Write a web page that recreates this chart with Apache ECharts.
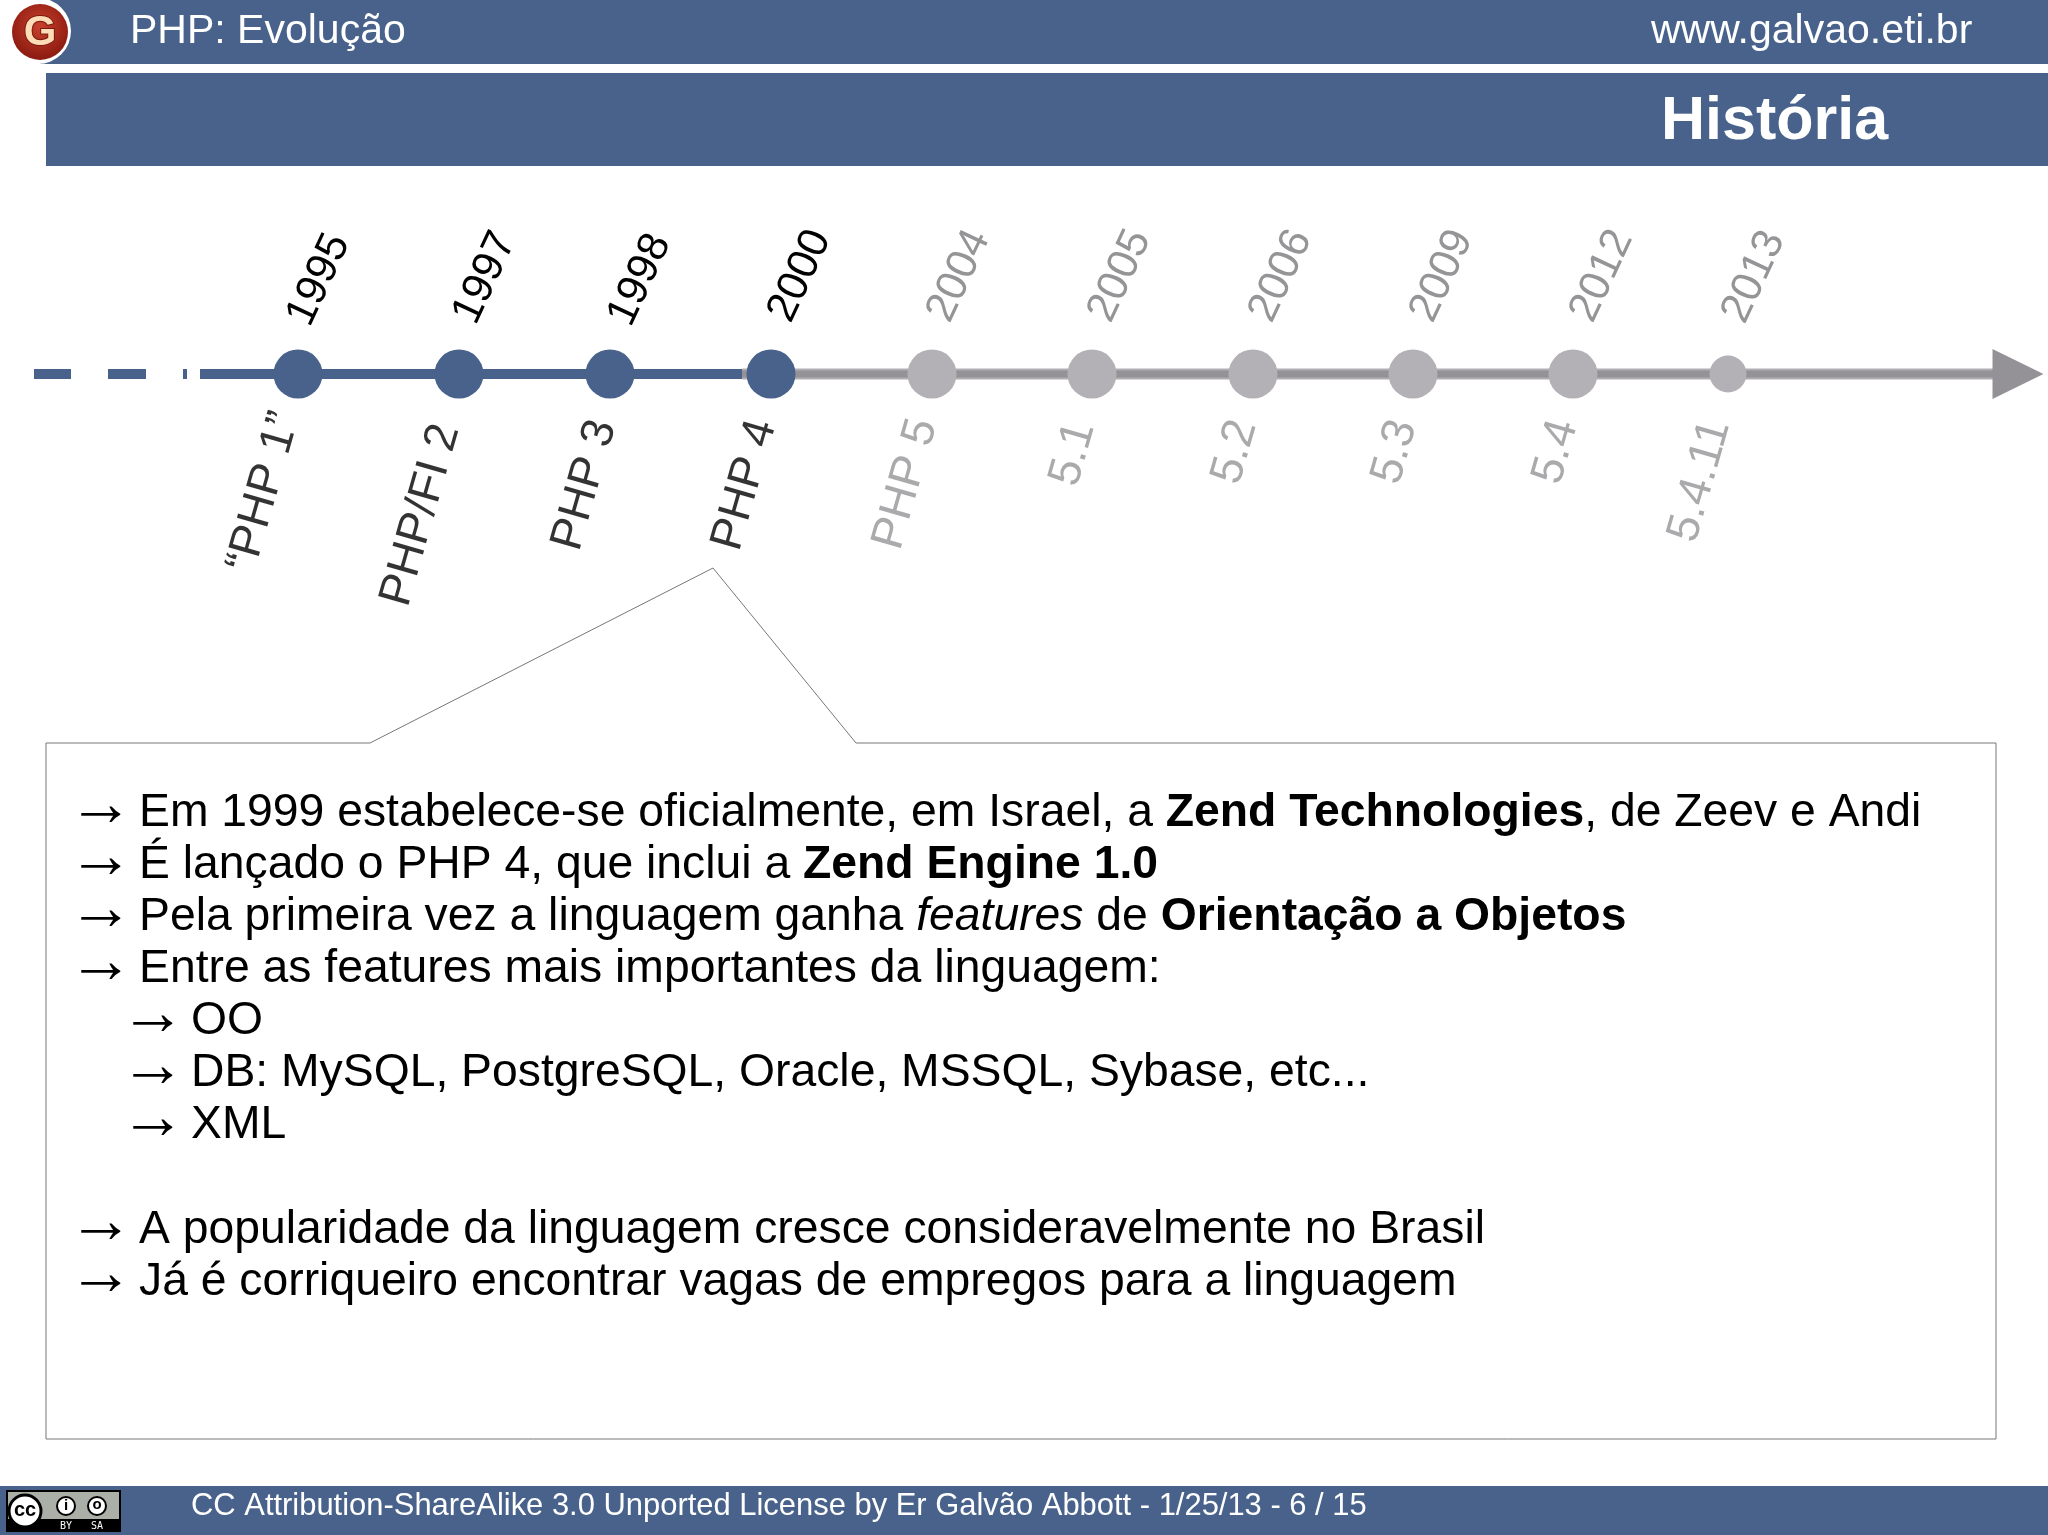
<!DOCTYPE html>
<html>
<head>
<meta charset="utf-8">
<title>PHP: Evolução</title>
<style>
  html, body { margin: 0; padding: 0; background: #fff; }
  #chart { width: 2048px; height: 1535px; }
</style>
<script src="https://cdn.jsdelivr.net/npm/echarts@6/dist/echarts.min.js"></script>
</head>
<body>
<div id="chart"></div>
<script>
// timeline data, position is measured along the slide
const years = ['1995', '1997', '1998', '2000', '2004', '2005', '2006', '2009', '2012', '2013'];
const versions = ['“PHP 1”', 'PHP/FI 2', 'PHP 3', 'PHP 4', 'PHP 5', '5.1', '5.2', '5.3', '5.4', '5.4.11'];
const positions = [298, 459, 610, 771, 932, 1092, 1253, 1413, 1573, 1728];
const pastCount = 4;

const pastDashes = [[34, 71], [108, 146], [183, 187]];
const pastLineEnd = [200, 742];
const futureLineEnd = [742, 1996];
const arrowTip = 2018;

const headerLeft = 'PHP: Evolução';
const headerRight = 'www.galvao.eti.br';
const slideTitle = 'História';
const footerText = 'CC Attribution-ShareAlike 3.0 Unported License by Er Galvão Abbott - 1/25/13 - 6 / 15';

const bulletGlyph = '→';
const bodyLines = [
  'Em 1999 estabelece-se oficialmente, em Israel, a {b|Zend Technologies}, de Zeev e Andi',
  'É lançado o PHP 4, que inclui a {b|Zend Engine 1.0}',
  'Pela primeira vez a linguagem ganha {i|features} de {b|Orientação a Objetos}',
  'Entre as features mais importantes da linguagem:',
  'OO',
  'DB: MySQL, PostgreSQL, Oracle, MSSQL, Sybase, etc...',
  'XML',
  '',
  'A popularidade da linguagem cresce consideravelmente no Brasil',
  'Já é corriqueiro encontrar vagas de empregos para a linguagem'
];
const indentedLines = [4, 5, 6];

const BLUE = '#48628b';
const LINE_GRAY = '#949296';
const LINE_EDGE = '#b0aeb2';
const NODE_GRAY = '#b3b1b5';
const TEXT_GRAY = '#959597';
const FONT = '"Liberation Sans", Arial, sans-serif';
const YEAR_ANGLE = 65;
const VERSION_ANGLE = 74;

const chart = echarts.init(document.getElementById('chart'), null, { renderer: 'canvas' });

function nodeColor(i) {
  return i < pastCount ? BLUE : NODE_GRAY;
}

function textColor(i) {
  return i < pastCount ? '#000' : TEXT_GRAY;
}

// label centres relative to the node, in screen pixels
const yearShiftX = [21, 26, 30, 29, 27, 28, 28, 29, 29, 26];
const yearShiftY = [-94, -96, -94, -98, -98, -98, -98, -98, -98, -97];
const versionShiftX = [-34, -38, -25, -26, -26, -19, -18, -18, -17, -28];
const versionShiftY = [118, 141, 111, 111, 110, 80, 78, 78, 78, 107];

// the label offset is applied in the rotated frame of the text
function rotatedOffset(dx, dy, angle) {
  const a = angle * Math.PI / 180;
  return [dx * Math.cos(a) - dy * Math.sin(a), dx * Math.sin(a) + dy * Math.cos(a)];
}

function rotatedLabel(text, i, dx, dy, angle, fontSize) {
  return {
    show: true,
    formatter: text,
    position: 'inside',
    rotate: angle,
    align: 'center',
    verticalAlign: 'middle',
    offset: rotatedOffset(dx, dy, angle),
    color: textColor(i),
    fontFamily: FONT,
    fontSize: fontSize
  };
}

const yearPoints = positions.map((x, i) => ({
  value: [x, 0],
  symbolSize: i === positions.length - 1 ? 37 : 49,
  itemStyle: { color: nodeColor(i), opacity: 1 },
  label: rotatedLabel(years[i], i, yearShiftX[i], yearShiftY[i], YEAR_ANGLE, 43)
}));

const versionPoints = positions.map((x, i) => ({
  value: [x, 0],
  symbolSize: 0,
  label: rotatedLabel(versions[i], i, versionShiftX[i], versionShiftY[i], VERSION_ANGLE, 46)
}));

// null gaps break the dashed part of the line
const dashPoints = [];
pastDashes.forEach(d => {
  dashPoints.push([d[0], 0], [d[1], 0], [null, null]);
});

function slideText(text, x, y, fontSize, fontWeight) {
  return {
    type: 'text',
    z: 5,
    style: {
      text: text,
      x: x,
      y: y,
      fill: '#fff',
      font: (fontWeight || 'normal') + ' ' + fontSize + 'px ' + FONT,
      verticalAlign: 'middle'
    }
  };
}

const bodyGraphics = [];
bodyLines.forEach((t, index) => {
  if (!t) return;
  const indent = indentedLines.includes(index) ? 52 : 0;
  const y = 813 + index * 52.1;
  bodyGraphics.push({
    type: 'text',
    z: 5,
    style: {
      text: bulletGlyph,
      x: 68 + indent,
      y: y - 6,
      fill: '#000',
      font: '66px ' + FONT,
      verticalAlign: 'middle'
    }
  });
  bodyGraphics.push({
    type: 'text',
    z: 5,
    style: {
      text: t,
      x: 139 + indent,
      y: y,
      fill: '#000',
      font: '46.3px ' + FONT,
      verticalAlign: 'middle',
      rich: {
        b: { font: 'bold 46.3px ' + FONT, fill: '#000' },
        i: { font: 'italic 46.3px ' + FONT, fill: '#000' }
      }
    }
  });
});

const option = {
  animation: false,
  backgroundColor: '#fff',
  grid: { left: 0, right: 0, top: 0, bottom: 0 },
  xAxis: { type: 'value', min: 0, max: 2048, show: false },
  yAxis: { type: 'value', min: -1161, max: 374, show: false },
  graphic: [
    // header bars
    { type: 'rect', z: 1, shape: { x: 40, y: 0, width: 2008, height: 64 }, style: { fill: BLUE } },
    { type: 'rect', z: 1, shape: { x: 46, y: 73, width: 2002, height: 93 }, style: { fill: BLUE } },
    { type: 'circle', z: 2, shape: { cx: 38, cy: 31, r: 33 }, style: { fill: '#fff' } },
    {
      type: 'circle', z: 3, shape: { cx: 40, cy: 32, r: 28 },
      style: {
        fill: {
          type: 'radial', x: 0.5, y: 0.4, r: 0.6,
          colorStops: [{ offset: 0, color: '#c8402c' }, { offset: 1, color: '#8a1a10' }]
        }
      }
    },
    {
      type: 'text', z: 4,
      style: {
        text: 'G', x: 40, y: 33, fill: '#ffdcb8', stroke: '#7a1a10', lineWidth: 2,
        font: 'bold 42px ' + FONT, align: 'center', verticalAlign: 'middle'
      }
    },
    slideText(headerLeft, 130, 32, 41),
    slideText(headerRight, 1651, 32, 41),
    slideText(slideTitle, 1661, 122, 61, 'bold'),

    // callout around the text
    {
      type: 'polygon', z: 1,
      shape: { points: [[46, 743], [370, 743], [713, 568], [856, 743], [1996, 743], [1996, 1439], [46, 1439]] },
      style: { fill: '#fff', stroke: '#777', lineWidth: 1 }
    },
    ...bodyGraphics,

    // footer and licence badge
    { type: 'rect', z: 1, shape: { x: 0, y: 1486, width: 2048, height: 49 }, style: { fill: BLUE } },
    { type: 'rect', z: 2, shape: { x: 6, y: 1490, width: 115, height: 42 }, style: { fill: '#000' } },
    { type: 'rect', z: 3, shape: { x: 8, y: 1492, width: 111, height: 27 }, style: { fill: '#aab0a8' } },
    { type: 'circle', z: 4, shape: { cx: 25, cy: 1511, r: 16 }, style: { fill: '#fff', stroke: '#000', lineWidth: 3 } },
    { type: 'text', z: 5, style: { text: 'cc', x: 25, y: 1510, fill: '#000', font: 'bold 20px ' + FONT, align: 'center', verticalAlign: 'middle' } },
    { type: 'circle', z: 4, shape: { cx: 66, cy: 1506, r: 9 }, style: { fill: '#fff', stroke: '#000', lineWidth: 2 } },
    { type: 'text', z: 5, style: { text: 'i', x: 66, y: 1506, fill: '#000', font: 'bold 15px ' + FONT, align: 'center', verticalAlign: 'middle' } },
    { type: 'circle', z: 4, shape: { cx: 97, cy: 1506, r: 9 }, style: { fill: '#fff', stroke: '#000', lineWidth: 2 } },
    { type: 'text', z: 5, style: { text: 'o', x: 97, y: 1505, fill: '#000', font: 'bold 15px ' + FONT, align: 'center', verticalAlign: 'middle' } },
    { type: 'text', z: 5, style: { text: 'BY', x: 66, y: 1526, fill: '#fff', font: '10px "DejaVu Sans Mono"', align: 'center', verticalAlign: 'middle' } },
    { type: 'text', z: 5, style: { text: 'SA', x: 97, y: 1526, fill: '#fff', font: '10px "DejaVu Sans Mono"', align: 'center', verticalAlign: 'middle' } },
    slideText(footerText, 191, 1506, 30.93)
  ],
  series: [
    {
      type: 'line', z: 2, symbol: 'none', silent: true,
      data: futureLineEnd.map(x => [x, 0]),
      lineStyle: { color: LINE_EDGE, width: 11, cap: 'butt' }
    },
    {
      type: 'line', z: 2, symbol: 'none', silent: true,
      data: futureLineEnd.map(x => [x, 0]),
      lineStyle: { color: LINE_GRAY, width: 7, cap: 'butt' }
    },
    {
      type: 'line', z: 3, symbol: 'none', silent: true,
      data: pastLineEnd.map(x => [x, 0]),
      lineStyle: { color: BLUE, width: 10, cap: 'butt' }
    },
    {
      type: 'line', z: 3, symbol: 'none', silent: true,
      data: dashPoints,
      lineStyle: { color: BLUE, width: 10, cap: 'butt' }
    },
    {
      // arrow head at the end of the timeline
      type: 'scatter', z: 3, silent: true,
      data: [[arrowTip, 0]],
      symbol: 'triangle',
      symbolRotate: -90,
      symbolSize: [50, 51],
      itemStyle: { color: LINE_GRAY, opacity: 1 }
    },
    {
      type: 'scatter', z: 4, silent: true,
      data: yearPoints
    },
    {
      type: 'scatter', z: 4, silent: true,
      data: versionPoints
    }
  ]
};

chart.setOption(option);
</script>
</body>
</html>
